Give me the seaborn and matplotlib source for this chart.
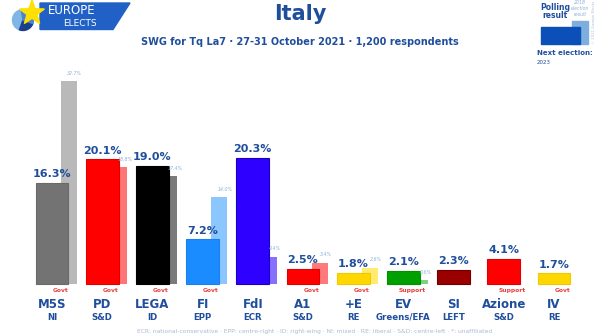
import matplotlib
matplotlib.use("Agg")
import matplotlib.pyplot as plt
import matplotlib.patches as mpatches
import seaborn as sns
import pandas as pd
import numpy as np

# ---- data ----
parties = ["M5S", "PD", "LEGA", "FI", "FdI", "A1", "+E", "EV", "SI", "Azione", "IV"]
groups = ["NI", "S&D", "ID", "EPP", "ECR", "S&D", "RE", "Greens/EFA", "LEFT", "S&D", "RE"]
poll = [16.3, 20.1, 19.0, 7.2, 20.3, 2.5, 1.8, 2.1, 2.3, 4.1, 1.7]
prev = [32.7, 18.8, 17.4, 14.0, 4.4, 3.4, 2.6, 0.6, None, None, None]
status = ["Govt", "Govt", "Govt", "Govt", "", "Govt", "Govt", "Support", "", "Support", "Govt"]
main_colors = ["#737373", "#ff0000", "#000000", "#1a8cff", "#2e00ff", "#ff0000",
               "#ffd700", "#00a000", "#9b0000", "#ff0000", "#ffd700"]
light_colors = ["#b9b9b9", "#ff7575", "#7a7a7a", "#8cc6ff", "#8870ff", "#ff7a7a",
                "#ffec6e", "#7fd07f", "#d07070", "#ff8080", "#ffec6e"]
edge_colors = ["#6a6a6a", "#e00000", "#000000", "#1a80ee", "#1a00c0", "#e00000",
               "#f0c800", "#009000", "#700000", "#e00000", "#f0c800"]

DARK = "#1f4e9c"
FOOT = "#a9bbd4"

W, H = 600, 336
fig = plt.figure(figsize=(6.0, 3.36), dpi=100)
ax = fig.add_axes([0, 0, 1, 1])

df = pd.DataFrame({"party": parties, "poll": poll, "prev": prev})
dprev = df.dropna(subset=["prev"])

# light (previous election) bars, behind
sns.barplot(data=dprev, x="party", y="prev", order=parties, hue="party",
            palette=dict(zip(parties, light_colors)), width=0.32, legend=False,
            ax=ax, zorder=1, saturation=1)
shift = 0.33
for p in ax.patches:
    p.set_x(p.get_x() + shift)
n_light = len(ax.patches)

# main (poll) bars
sns.barplot(data=df, x="party", y="poll", order=parties, hue="party",
            palette=dict(zip(parties, main_colors)), width=0.65, legend=False,
            ax=ax, zorder=2, saturation=1)
for p, ec in zip(ax.patches[n_light:], edge_colors):
    p.set_edgecolor(ec)
    p.set_linewidth(0.8)
    p.set_zorder(2)

# limits: x index -> pixel 52 + 50.2*i ; y baseline at px 284 (from top), 6.2 px per %
pxu = 50.2
pyu = 6.2
ax.set_xlim(-52 / pxu, (W - 52) / pxu)
base = H - 284
ax.set_ylim(-base / pyu, (H - base) / pyu)
ax.axis("off")

def ypx(py):  # pixel from top -> data y
    return (H - py - base) / pyu

for i, party in enumerate(parties):
    ax.text(i, poll[i] + 0.6, f"{poll[i]:.1f}%", ha="center", va="bottom",
            fontsize=8, color=DARK, fontweight="bold", zorder=5)
    if prev[i] is not None:
        ax.text(i + 0.45, prev[i] + 0.9, f"{prev[i]:.1f}%", ha="center", va="bottom",
                fontsize=3.4, color="#8fb0d8", style="italic", zorder=5)
    if status[i]:
        ax.text(i + 0.17, ypx(290.5), status[i], ha="center", va="center",
                fontsize=4.3, color="#e84040", fontweight="bold")
    ax.text(i, ypx(304), party, ha="center", va="center", fontsize=8.5,
            color=DARK, fontweight="bold")
    ax.text(i, ypx(317.5), groups[i], ha="center", va="center", fontsize=6.2,
            color=DARK, fontweight="bold")

fig.text(315 / W, 1 - 331 / H,
         "ECR: national-conservative · EPP: centre-right · ID: right-wing · NI: mixed · "
         "RE: liberal · S&D: centre-left · *: unaffiliated",
         ha="center", va="center", fontsize=4.3, color=FOOT)

# title & subtitle
fig.text(300 / W, 1 - 14 / H, "Italy", ha="center", va="center", fontsize=15,
         color=DARK, fontweight="bold")
fig.text(300 / W, 1 - 42 / H, "SWG for Tq La7 · 27-31 October 2021 · 1,200 respondents",
         ha="center", va="center", fontsize=7, color=DARK, fontweight="bold")

# ---- logo ----
def fx(x):
    return x / W

def fy(y):
    return 1 - y / H

def inch(x, y):
    return (x / 100.0, (H - y) / 100.0)

tr_in = fig.dpi_scale_trans
logo = mpatches.Polygon([(fx(40), fy(3)), (fx(130), fy(3)), (fx(113), fy(29.5)), (fx(40), fy(29.5))],
                        closed=True, transform=fig.transFigure, color="#2160c4", zorder=3)
fig.patches.append(logo)
fig.patches.append(mpatches.Wedge(inch(23, 20), 0.105, 100, 250, transform=tr_in,
                                  color="#7fb6e6", zorder=3))
fig.patches.append(mpatches.Wedge(inch(23, 20), 0.105, 250, 340, transform=tr_in,
                                  color="#1c3f8a", zorder=3))
fig.patches.append(mpatches.Wedge(inch(23, 20), 0.105, 340, 100, transform=tr_in,
                                  color="#4a86d0", zorder=3))
# star
cx, cy, R, r = 32, 13, 13, 5.2
pts = []
for k in range(10):
    ang = np.pi / 2 + k * np.pi / 5
    rr = R if k % 2 == 0 else r
    pts.append(inch(cx + rr * np.cos(ang), cy - rr * np.sin(ang)))
star = mpatches.Polygon(pts, closed=True, transform=tr_in, color="#ffe000", zorder=4)
fig.patches.append(star)
fig.text(fx(72), fy(11), "EUROPE", ha="center", va="center", fontsize=8.5,
         color="white", zorder=5)
fig.text(fx(80), fy(23), "ELECTS", ha="center", va="center", fontsize=6.5,
         color="white", zorder=5)

# ---- legend box (top right) ----
fig.text(fx(555), fy(7), "Polling", ha="center", va="center", fontsize=5.5,
         color=DARK, fontweight="bold")
fig.text(fx(555), fy(16), "result", ha="center", va="center", fontsize=5.5,
         color=DARK, fontweight="bold")
fig.text(fx(580), fy(2), "2018", ha="center", va="center", fontsize=3.3,
         color="#8fb0d8", style="italic")
fig.text(fx(580), fy(8), "election", ha="center", va="center", fontsize=3.3,
         color="#8fb0d8", style="italic")
fig.text(fx(580), fy(14), "result", ha="center", va="center", fontsize=3.3,
         color="#8fb0d8", style="italic")
fig.patches.append(mpatches.Rectangle((fx(572), fy(44)), fx(16), 23 / H,
                                      transform=fig.transFigure, color="#7eaede", zorder=3))
fig.patches.append(mpatches.Rectangle((fx(541), fy(44)), fx(39), 17 / H,
                                      transform=fig.transFigure, color="#0b50b8", zorder=4))
fig.text(fx(537), fy(53), "Next election:", ha="left", va="center", fontsize=5,
         color=DARK, fontweight="bold")
fig.text(fx(537), fy(62), "2023", ha="left", va="center", fontsize=4,
         color=DARK)
fig.text(fx(594), fy(22), "© 2021 Europe Elects", ha="center", va="center", fontsize=2.8,
         color="#b0c0d8", rotation=90)

fig.savefig("out.png", dpi=100)
